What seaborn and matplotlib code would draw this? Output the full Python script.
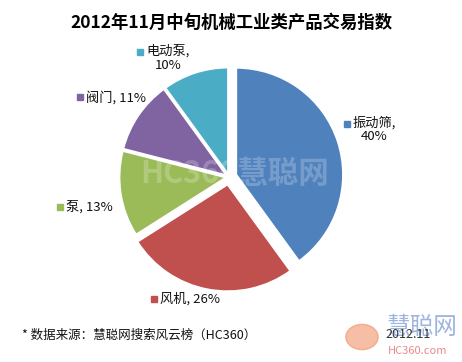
import numpy as np
import seaborn as sns
import matplotlib.pyplot as plt
from matplotlib.patches import Circle

# data
names = ['振动筛', '风机', '泵', '阀门', '电动泵']
shares = [40, 26, 13, 11, 10]
colors = ['#4F81BD', '#C0504D', '#9BBB59', '#8064A2', '#4BACC6']
title = '2012年11月中旬机械工业类产品交易指数'
source = '* 数据来源：慧聪网搜索风云榜（HC360）'
date_txt = '2012.11'

# layout
explode = [0.07, 0.07, 0.025, 0.025, 0.025]
label_dist = [1.43, 1.20, 1.33, 1.29, 1.25]
label_turn = [0, -7, 3, -1, 9]
two_lines = [True, False, False, False, True]

sns.set_theme(style='white')
plt.rcParams['font.family'] = ['Noto Sans CJK SC', 'DejaVu Sans']

W, H = 462, 362
cx, cy, R = 229, 177, 107
fig = plt.figure(figsize=(W / 100, H / 100), dpi=100)
ax = fig.add_axes([0, 0, 1, 1])

wedges, _ = ax.pie(shares, colors=colors, startangle=90, counterclock=False,
                   explode=explode, radius=1,
                   wedgeprops=dict(edgecolor='white', linewidth=1.5))
ax.set_xlim(-cx / R, (W - cx) / R)
ax.set_ylim(-(H - cy) / R, cy / R)
ax.axis('off')

for w, name, val, d, t, tl, c in zip(wedges, names, shares, label_dist,
                                     label_turn, two_lines, colors):
    mid = np.deg2rad((w.theta1 + w.theta2) / 2 + t)
    x, y = d * np.cos(mid), d * np.sin(mid)
    txt = f'{name},\n{val}%' if tl else f'{name}, {val}%'
    t_obj = ax.text(x, y, txt, ha='center', va='center', fontsize=9.5,
                    color='#111111', multialignment='center', linespacing=1.1)
    fig.canvas.draw()
    bb = t_obj.get_window_extent()
    if tl:
        line_w = len(name) * 13.2 + 4
        left = (bb.x0 + bb.x1) / 2 - line_w / 2
        top = bb.y1 - 8
    else:
        left = bb.x0
        top = (bb.y0 + bb.y1) / 2
    fig.patches.append(plt.Rectangle((left - 9, top - 3), 6, 6, color=c,
                                     transform=None, figure=fig))

# watermark over pie
ax.text(0.05, 0.03, 'HC360慧聪网', ha='center', va='center', fontsize=22,
        style='italic', fontweight='bold', color='white', alpha=0.22, zorder=5)

fig.text(0.5, 1 - 23 / H, title, ha='center', va='center', fontsize=12.5,
         fontweight='bold', color='black')
fig.text(22 / W, 1 - 335 / H, source, ha='left', va='center', fontsize=9,
         color='#111111')

# bottom-right logo
fig.patches.append(Circle((362 / W, 1 - 337 / H), 0.035, color='#F08A5D',
                          alpha=0.55, transform=fig.transFigure, figure=fig))
fig.text(422 / W, 1 - 327 / H, '慧聪网', ha='center', va='center', fontsize=17,
         style='italic', color='#9DB3E0')
fig.text(418 / W, 1 - 351 / H, 'HC360.com', ha='center', va='center',
         fontsize=8, color='#E88A8A')
fig.text(385 / W, 1 - 335 / H, date_txt, ha='left', va='center', fontsize=9,
         color='#333333')

fig.savefig('out.png', dpi=100)
